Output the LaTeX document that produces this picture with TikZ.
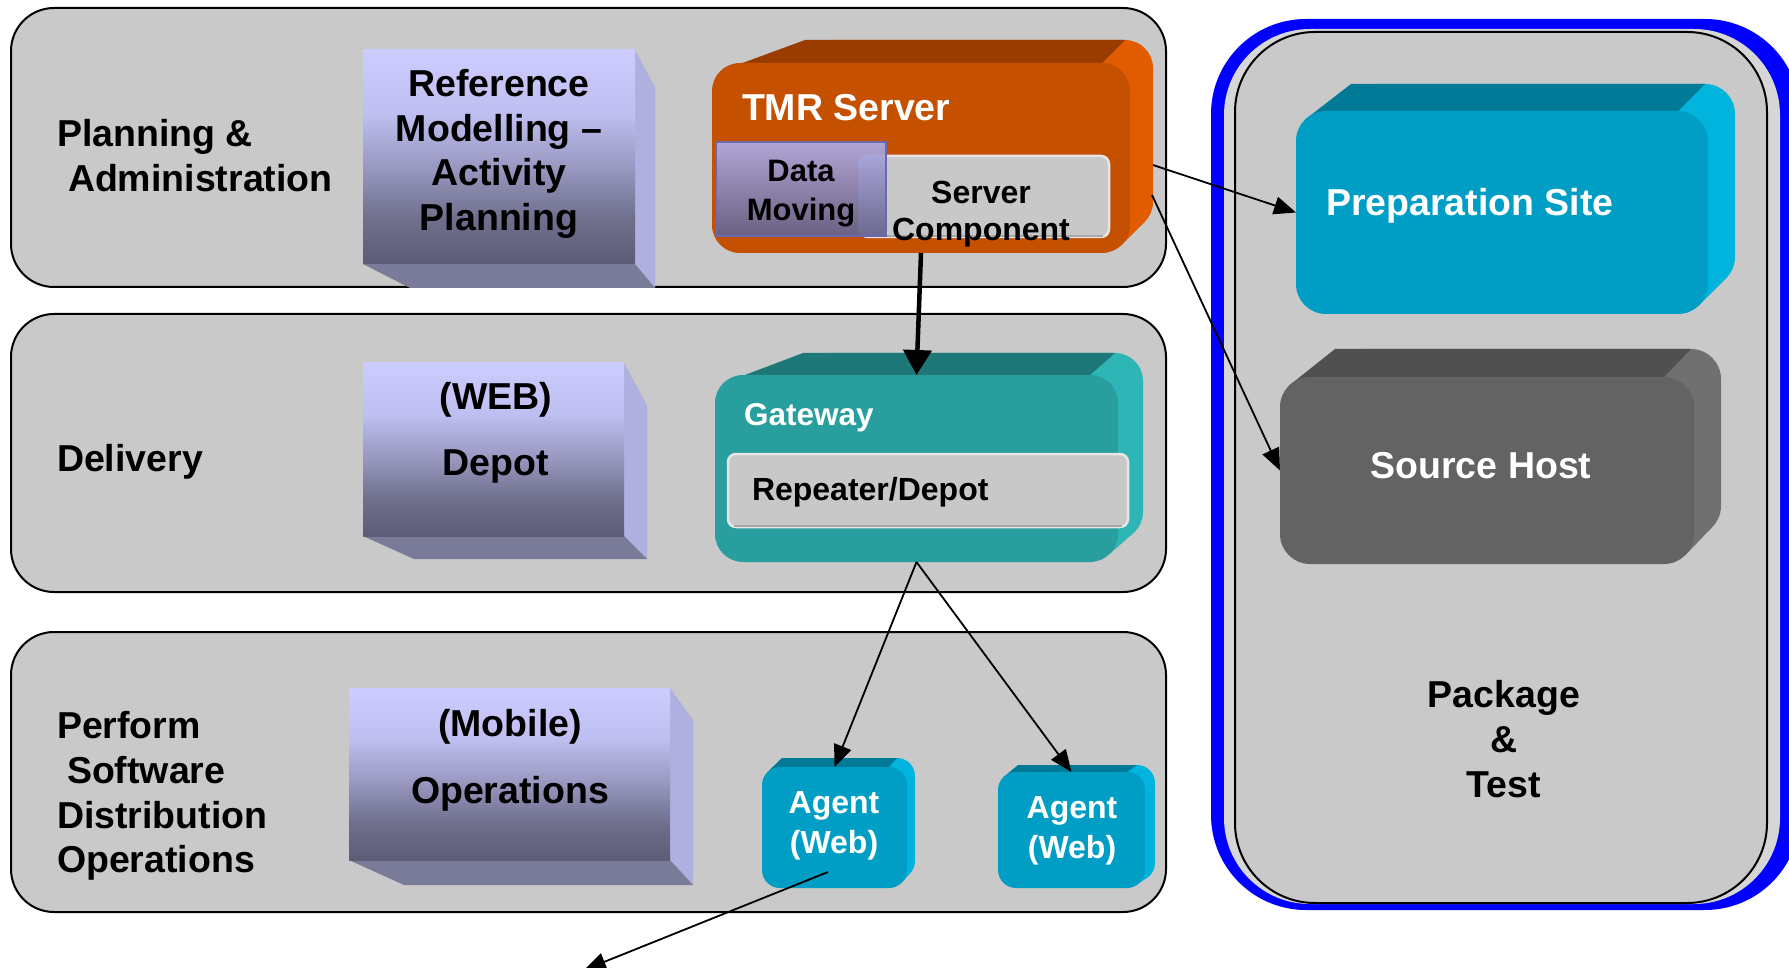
\documentclass[tikz,border=0pt]{standalone}
\usepackage{fontspec}
\setmainfont{Liberation Sans}
\usetikzlibrary{arrows.meta,fit}

% panel and frame colours
\definecolor{panel}{RGB}{201,201,201}
\definecolor{panelhi}{RGB}{214,214,214}
\definecolor{frameblue}{RGB}{0,0,255}
% lavender blocks
\definecolor{lavT}{RGB}{204,204,255}
\definecolor{lavA}{RGB}{190,190,240}
\definecolor{lavM}{RGB}{150,150,190}
\definecolor{lavB}{RGB}{112,112,142}
\definecolor{lavD}{RGB}{92,92,118}
\definecolor{lavside}{RGB}{176,176,224}
\definecolor{lavbot}{RGB}{122,122,153}
\definecolor{dmT}{RGB}{176,172,230}
\definecolor{dmB}{RGB}{100,98,140}
\definecolor{dmedge}{RGB}{104,104,170}
% extruded blocks: F front, T top, S side
\definecolor{tmrF}{RGB}{196,80,0}
\definecolor{tmrT}{RGB}{154,60,0}
\definecolor{tmrS}{RGB}{225,92,0}
\definecolor{gwF}{RGB}{40,158,158}
\definecolor{gwT}{RGB}{31,120,120}
\definecolor{gwS}{RGB}{46,181,181}
\definecolor{cyF}{RGB}{0,158,196}
\definecolor{cyT}{RGB}{0,122,150}
\definecolor{cyS}{RGB}{0,180,222}
\definecolor{shF}{RGB}{99,99,99}
\definecolor{shT}{RGB}{80,80,80}
\definecolor{shS}{RGB}{112,112,112}
\definecolor{compF}{RGB}{200,200,200}
\definecolor{compD}{RGB}{168,168,168}

\pgfdeclareverticalshading{lavshade}{100bp}{color(0bp)=(lavD); color(25bp)=(lavD); color(36bp)=(lavB); color(47bp)=(lavM); color(60bp)=(lavA); color(75bp)=(lavT); color(100bp)=(lavT)}
\pgfdeclareverticalshading{dmshade}{100bp}{color(0bp)=(dmB); color(25bp)=(dmB); color(75bp)=(dmT); color(100bp)=(dmT)}

\newcommand\fsz[2]{\fontsize{#1}{#2}\selectfont\bfseries}

% top and side faces of a rounded block:
% x1 y1 x2 y2 radius topdepth sidedepth leftslant colourprefix
\newcommand\extrude[9]{%
  \fill[#9S, rounded corners=#5pt] ({#1+#8},{#2-#6}) rectangle ({#3+#7},{#4-#6});
  \fill[#9S] ({#3-0.293*#5},{#2+0.293*#5}) -- ({#3+#7-0.293*#5},{#2-#6+0.293*#5})
     -- ({#3+#7-0.293*#5},{#4-#6-0.293*#5}) -- ({#3-0.293*#5},{#4-0.293*#5}) -- cycle;
  \fill[#9T] ({#1+0.293*#5},{#2+0.293*#5}) -- ({#1+#8},{#2-#6}) -- ({#3+#7-#5},{#2-#6})
     -- ({#3-#5},{#2}) -- cycle;
}

% lavender block with side and bottom faces:
% name x1 y1 x2 y2 sidex bottomy sidetopy bottomleftx
\newcommand\lavbox[9]{%
  \fill[lavside] (#4,#3) -- (#6,#8) -- (#6,#7) -- (#4,#5) -- cycle;
  \fill[lavbot] (#2,#5) -- (#9,#7) -- (#6,#7) -- (#4,#5) -- cycle;
  \node[lavfront, fit={(#2,#3) (#4,#5)}] (#1) {};
}

\begin{document}
\begin{tikzpicture}[x=1pt,y=-1pt,
  every node/.style={inner sep=0pt, outer sep=0pt},
  panelbox/.style={draw=black, line width=2pt, fill=panel, rounded corners=43pt},
  lavfront/.style={shading=lavshade},
  lbl/.style={font=\fsz{37.5}{44.6}, text=black},
  wlbl/.style={font=\fsz{37.5}{44.6}, text=white},
  lblsm/.style={font=\fsz{32}{37}, text=black},
  wlblsm/.style={font=\fsz{32}{40}, text=white},
  comp/.style={fill=compF, draw=compF!45!white, line width=2.5pt, rounded corners=8pt},
  dmbox/.style={shading=dmshade, fill opacity=0.93, draw=dmedge, line width=1.5pt},
  flow/.style={-{Triangle[length=22pt,width=18pt]}, line width=1.8pt},
  bigflow/.style={-{Triangle[length=25pt,width=28pt]}, line width=4.5pt}]

\clip (0,0) rectangle (1789,968);
\fill[white] (0,0) rectangle (1789,968);

% the three layers
\node[panelbox, fit={(11,8) (1166,287)}] (plan) {};
\node[panelbox, fit={(11,314) (1166,592)}] (deliv) {};
\node[panelbox, fit={(11,632) (1166,912)}] (ops) {};

% package & test area
\node[fill=frameblue, rounded corners=95pt, fit={(1211,19) (1800,910)}] (frame) {};
\node[fill=panelhi, rounded corners=86pt, fit={(1224,29) (1780,904)}] (rim) {};
\node[panelbox, rounded corners=80pt, fit={(1235,32) (1767,903)}] (pkg) {};

% layer titles
\node[lbl, anchor=west, align=left] (lblplan) at (57,155.5) {Planning \&\\\hspace*{11pt}Administration};
\node[lbl, anchor=west] (lbldel) at (57,462) {Delivery};
\node[lbl, anchor=west, align=left] (lblops) at (57,796) {Perform\\\hspace*{10pt}Software\\Distribution\\Operations};

% lavender blocks
\lavbox{refm}{363}{50}{635}{264}{655}{288}{87}{410}
\node[lbl, align=center] (refmtxt) at (499,154) {Reference\\Modelling –\\Activity\\Planning};
\lavbox{depot}{363}{363}{624}{536}{647}{559}{405}{414}
\node[lbl, align=center] (depottxt) at (496,433) {(WEB)\\[21pt]Depot};
\lavbox{mobops}{349}{688}{670}{860}{693}{885}{720}{404}
\node[lbl, align=center] (mobtxt) at (510,760) {(Mobile)\\[22pt]Operations};

% TMR server
\extrude{712}{63}{1130}{253}{28}{23}{23}{93}{tmr}
\node[fill=tmrF, rounded corners=28pt, fit={(712,63) (1130,253)}] (tmr) {};
\node[wlbl, anchor=west] (tmrtxt) at (742,108) {TMR Server};
\node[comp, fit={(860,156) (1109,237)}] (srvc) {};
\draw[compD, line width=2pt] (866,236) -- (1103,236);
\node[lblsm, align=center] (srvctxt) at (981,214) {Server\\Component};
\node[dmbox, fit={(716,142) (886,236)}] (dmov) {};
\node[font=\fsz{31}{39}, align=center] (dmovtxt) at (801,194) {Data\\Moving};

% gateway
\extrude{715}{375}{1118}{562}{28}{22}{25}{88}{gw}
\node[fill=gwF, rounded corners=28pt, fit={(715,375) (1118,562)}] (gw) {};
\node[font=\fsz{31.5}{38}, text=white, anchor=west] (gwtxt) at (744,418) {Gateway};
\node[comp, fit={(728,454) (1128,527)}] (rep) {};
\draw[compD, line width=2pt] (734,526) -- (1122,526);
\node[lblsm, anchor=west] (reptxt) at (752,492) {Repeater/Depot};

% agents
\extrude{762}{767}{907}{888}{18}{9}{8}{20}{cy}
\node[fill=cyF, rounded corners=18pt, fit={(762,767) (907,888)}] (ag1) {};
\node[wlblsm, align=center] (ag1txt) at (834,826) {Agent\\(Web)};
\extrude{998}{772}{1145}{888}{18}{7}{10}{20}{cy}
\node[fill=cyF, rounded corners=18pt, fit={(998,772) (1145,888)}] (ag2) {};
\node[wlblsm, align=center] (ag2txt) at (1072,831) {Agent\\(Web)};

% preparation site and source host
\extrude{1296}{111}{1708}{314}{30}{27}{27}{55}{cy}
\node[fill=cyF, rounded corners=30pt, fit={(1296,111) (1708,314)}] (prep) {};
\node[wlbl, anchor=west] (preptxt) at (1326,206) {Preparation Site};
\extrude{1280}{377}{1694}{564}{30}{28}{27}{55}{sh}
\node[fill=shF, rounded corners=30pt, fit={(1280,377) (1694,564)}] (src) {};
\node[wlbl] (srctxt) at (1481,466) {Source Host};

\node[lbl, align=center] (pkgtxt) at (1504,739) {Package\\\&\\Test};

% connectors
\coordinate (tmrout1) at (1153,165);
\coordinate (tmrout2) at (1152,195);
\coordinate (ag1out) at (828,872);
\coordinate (offpage) at (584,970);
\draw[flow] (tmrout1) -- (prep.west);
\draw[flow] (tmrout2) -- (src.west);
\draw[bigflow] (tmr.south) -- (gw.north);
\draw[flow] (gw.south) -- (ag1.north);
\draw[flow] (gw.south) -- (ag2.north);
\draw[flow] (ag1out) -- (offpage);
\end{tikzpicture}
\end{document}
